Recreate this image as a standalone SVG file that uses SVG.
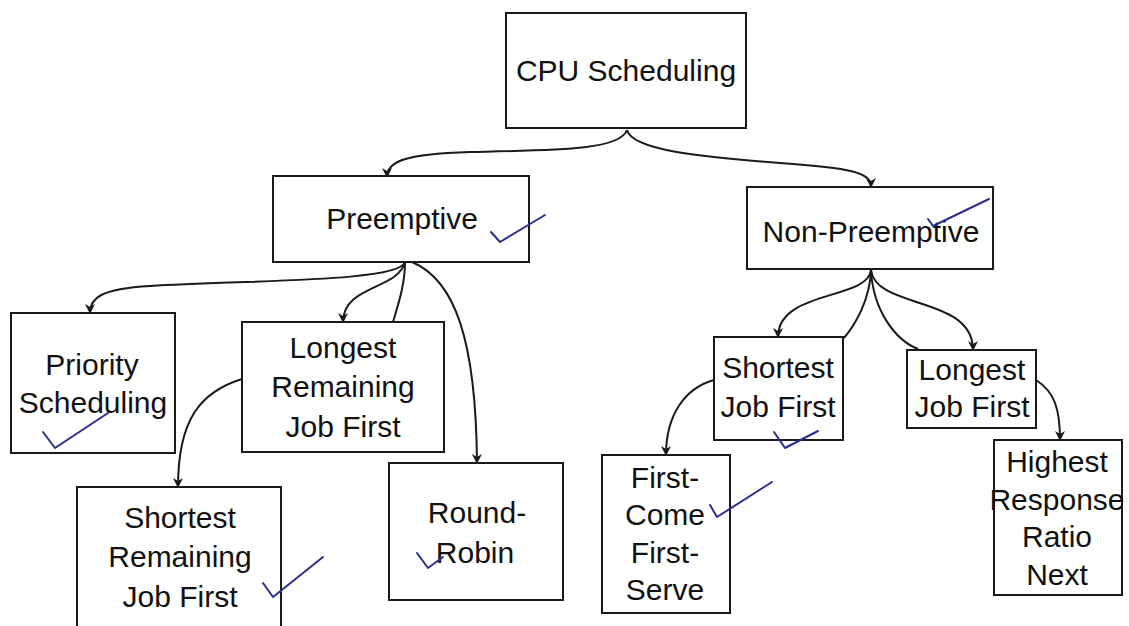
<svg xmlns="http://www.w3.org/2000/svg" width="1129" height="626" viewBox="0 0 1129 626">
<style>
.box{fill:#fff;stroke:#1a1a1a;stroke-width:2}
.t{font-family:"Liberation Sans",Arial,sans-serif;font-size:30px;fill:#111;text-anchor:middle}
.c{fill:none;stroke:#1a1a1a;stroke-width:2}
.ck{fill:none;stroke:#2b2f8c;stroke-width:2;stroke-linecap:round;stroke-linejoin:round}
</style>
<defs>
<marker id="ah" viewBox="0 0 10 10" refX="9" refY="5" markerWidth="10" markerHeight="10" markerUnits="userSpaceOnUse" orient="auto">
<path d="M0,0 L10,5 L0,10 L3,5 z" fill="#1a1a1a"/>
</marker>
</defs>
<rect width="1129" height="626" fill="#fff"/>
<g id="connectors">
<path class="c" d="M627,130 C620,150 560,150 470,152 C400,154 387,163 387,177" marker-end="url(#ah)"/>
<path class="c" d="M627,130 C632,150 700,157 780,163 C850,168 871,172 871,187" marker-end="url(#ah)"/>
<path class="c" d="M405,262 C400,282 250,280 150,286 C100,289 90,298 90,313" marker-end="url(#ah)"/>
<path class="c" d="M405,262 C398,290 343,285 343,322" marker-end="url(#ah)"/>
<path class="c" d="M405,262 C405,285 398,305 393,322"/>
<path class="c" d="M412,262 C455,280 476,340 477,463" marker-end="url(#ah)"/>
<path class="c" d="M242,379 C200,392 178,420 178,487" marker-end="url(#ah)"/>
<path class="c" d="M871,270 C868,300 778,290 778,337" marker-end="url(#ah)"/>
<path class="c" d="M871,270 C870,300 855,325 844,338"/>
<path class="c" d="M871,270 C873,310 895,340 918,349"/>
<path class="c" d="M871,270 C876,310 973,295 973,350" marker-end="url(#ah)"/>
<path class="c" d="M714,380 C685,388 666,415 666,455" marker-end="url(#ah)"/>
<path class="c" d="M1036,380 C1055,392 1060,410 1060,440" marker-end="url(#ah)"/>
</g>
<g id="cpu"><rect class="box" x="506" y="13" width="240" height="115"/><text class="t" x="626" y="81">CPU Scheduling</text></g>
<g id="preemptive"><rect class="box" x="273" y="176" width="256" height="86"/><text class="t" x="402" y="229">Preemptive</text></g>
<g id="nonpreemptive"><rect class="box" x="747" y="187" width="246" height="82"/><text class="t" x="871" y="242">Non-Preemptive</text></g>
<g id="priority"><rect class="box" x="11" y="313" width="164" height="140"/><text class="t" x="92" y="375">Priority</text><text class="t" x="93" y="413">Scheduling</text></g>
<g id="lrjf"><rect class="box" x="242" y="322" width="202" height="130"/><text class="t" x="343" y="358">Longest</text><text class="t" x="343" y="397">Remaining</text><text class="t" x="343" y="437">Job First</text></g>
<g id="srjf"><rect class="box" x="77" y="487" width="204" height="150"/><text class="t" x="180" y="528">Shortest</text><text class="t" x="180" y="567">Remaining</text><text class="t" x="180" y="607">Job First</text></g>
<g id="rr"><rect class="box" x="389" y="463" width="174" height="137"/><text class="t" x="477" y="523">Round-</text><text class="t" x="475" y="563">Robin</text></g>
<g id="sjf"><rect class="box" x="714" y="337" width="129" height="103"/><text class="t" x="778" y="378">Shortest</text><text class="t" x="778" y="417">Job First</text></g>
<g id="ljf"><rect class="box" x="907" y="350" width="129" height="78"/><text class="t" x="972" y="380">Longest</text><text class="t" x="972" y="417">Job First</text></g>
<g id="fcfs"><rect class="box" x="602" y="455" width="128" height="158"/><text class="t" x="665" y="488">First-</text><text class="t" x="665" y="525">Come</text><text class="t" x="665" y="563">First-</text><text class="t" x="665" y="600">Serve</text></g>
<g id="hrrn"><rect class="box" x="994" y="440" width="128" height="155"/><text class="t" x="1057" y="472">Highest</text><text class="t" x="1057" y="510">Response</text><text class="t" x="1057" y="547">Ratio</text><text class="t" x="1057" y="585">Next</text></g>
<g id="checks">
<polyline class="ck" points="491,232 500,242 545,215"/>
<polyline class="ck" points="928,219 933,226 989,199"/>
<polyline class="ck" points="43,432 55,448 108,413"/>
<polyline class="ck" points="263,583 273,597 323,557"/>
<polyline class="ck" points="417,553 428,568 443,557"/>
<polyline class="ck" points="774,432 785,448 818,431"/>
<polyline class="ck" points="710,505 717,517 772,482"/>
</g>
</svg>
